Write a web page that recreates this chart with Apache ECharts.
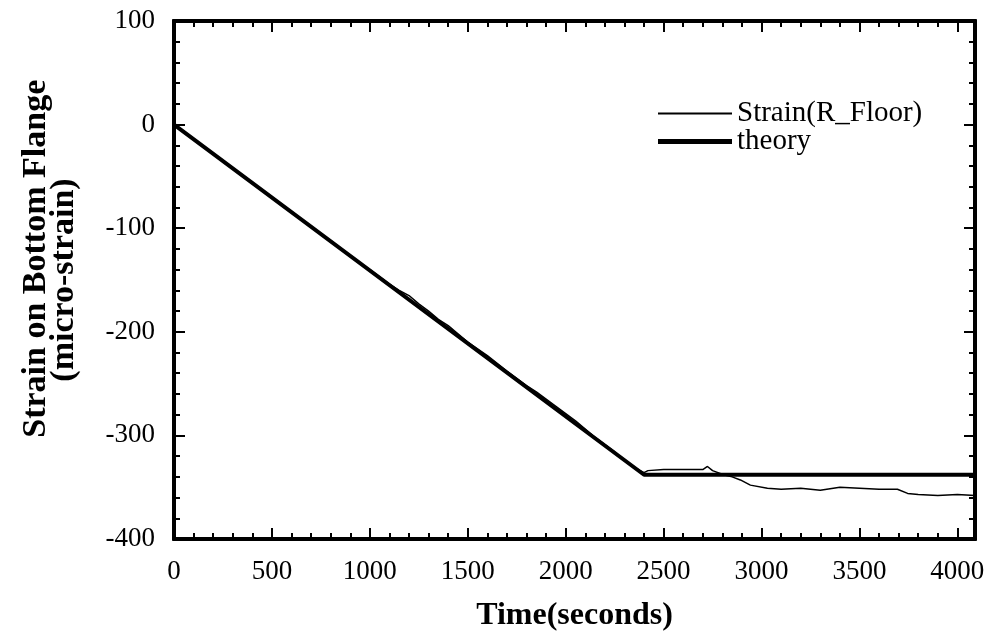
<!DOCTYPE html>
<html><head><meta charset="utf-8">
<script src="https://cdn.jsdelivr.net/npm/echarts@6/dist/echarts.min.js"></script>
<style>html,body{margin:0;padding:0;background:#fff;overflow:hidden}#c{width:990px;height:637px}</style>
</head><body><div id="c"></div>
<script>
// ---- data ----
var strainTime = [0,100,200,300,400,500,600,700,800,900,1000,1100,1150,1200,1250,1300,1350,1400,1450,1500,1600,1700,1800,1850,1900,1950,2000,2050,2100,2150,2200,2250,2300,2350,2400,2420,2500,2600,2700,2724,2750,2806,2850,2892,2943,3030,3100,3200,3300,3400,3500,3600,3694,3746,3800,3900,4000,4090];
var strainVals = [0,-14,-28,-42,-57,-70,-84,-99,-112,-127,-140,-154,-160,-165,-173,-180,-188,-194,-202,-210,-223,-238,-252,-258,-265,-272,-279,-286,-294,-302,-309,-316,-324,-331,-336,-334,-333,-333,-333,-330,-334,-338,-340,-343,-348,-351,-352,-351,-353,-350,-351,-352,-352,-356,-357,-358,-357,-358];
var theoryTime = [0,2400,4090];
var theoryVals = [0,-338,-338];
var xTicks = [0,500,1000,1500,2000,2500,3000,3500,4000];
var yTicks = [100,0,-100,-200,-300,-400];

var FONT = 'Liberation Serif';
function pair(a,b){return a.map(function(v,i){return [v,b[i]];});}

var xMin=0,xMax=4090,yMin=-400,yMax=100;
function xAx(pos, major, labels){
  return {type:'value', position:pos, min:xMin, max:xMax, interval: major?500:100,
    axisLine:{show:true,onZero:false,lineStyle:{color:'#000',width:4}},
    axisTick:{show:true,inside:true,length: major?11:6,lineStyle:{color:'#000',width:2}},
    axisLabel:{show:labels, margin:19, color:'#000', fontFamily:FONT, fontSize:27,
      formatter:function(v){return xTicks.indexOf(v)>=0? String(v):'';}},
    splitLine:{show:false},
    name: labels?'Time(seconds)':'', nameLocation:'middle', nameGap:61,
    nameTextStyle:{color:'#000',fontFamily:FONT,fontWeight:'bold',fontSize:32}};
}
function yAx(pos, major, labels){
  return {type:'value', position:pos, min:yMin, max:yMax, interval: major?100:20,
    axisLine:{show:true,onZero:false,lineStyle:{color:'#000',width:4}},
    axisTick:{show:true,inside:true,length: major?11:6,lineStyle:{color:'#000',width:2}},
    axisLabel:{show:labels, margin:19, color:'#000', fontFamily:FONT, fontSize:27,
      formatter:function(v){return yTicks.indexOf(v)>=0? String(v):'';}},
    splitLine:{show:false},
    name: labels?'     Strain on Bottom Flange\n(micro-strain)':'', nameLocation:'middle', nameGap:96, nameRotate:90,
    nameTextStyle:{color:'#000',fontFamily:FONT,fontWeight:'bold',fontSize:34,lineHeight:28}};
}

var chart = echarts.init(document.getElementById('c'));
chart.setOption({
  animation:false,
  backgroundColor:'#fff',
  grid:{left:174,width:801,top:21,height:524,containLabel:false},
  xAxis:[xAx('bottom',true,true), xAx('bottom',false,false), xAx('top',true,false), xAx('top',false,false)],
  yAxis:[yAx('left',true,true), yAx('left',false,false), yAx('right',true,false), yAx('right',false,false)],
  legend:[
    {orient:'vertical', left:658, top:99, itemWidth:74, itemHeight:2, icon:'rect', padding:0,
      textStyle:{color:'#000',fontFamily:FONT,fontSize:29}, data:['Strain(R_Floor)']},
    {orient:'vertical', left:658, top:127, itemWidth:74, itemHeight:5, icon:'rect', padding:0,
      textStyle:{color:'#000',fontFamily:FONT,fontSize:29}, data:['theory']}
  ],
  series:[
    {name:'theory', type:'line', xAxisIndex:0, yAxisIndex:0, data:pair(theoryTime,theoryVals),
      showSymbol:false, symbol:'none', lineStyle:{color:'#000',width:4}, itemStyle:{color:'#000'}},
    {name:'Strain(R_Floor)', type:'line', xAxisIndex:0, yAxisIndex:0, data:pair(strainTime,strainVals),
      showSymbol:false, symbol:'none', lineStyle:{color:'#000',width:1.5}, itemStyle:{color:'#000'}}
  ]
});
</script></body></html>
